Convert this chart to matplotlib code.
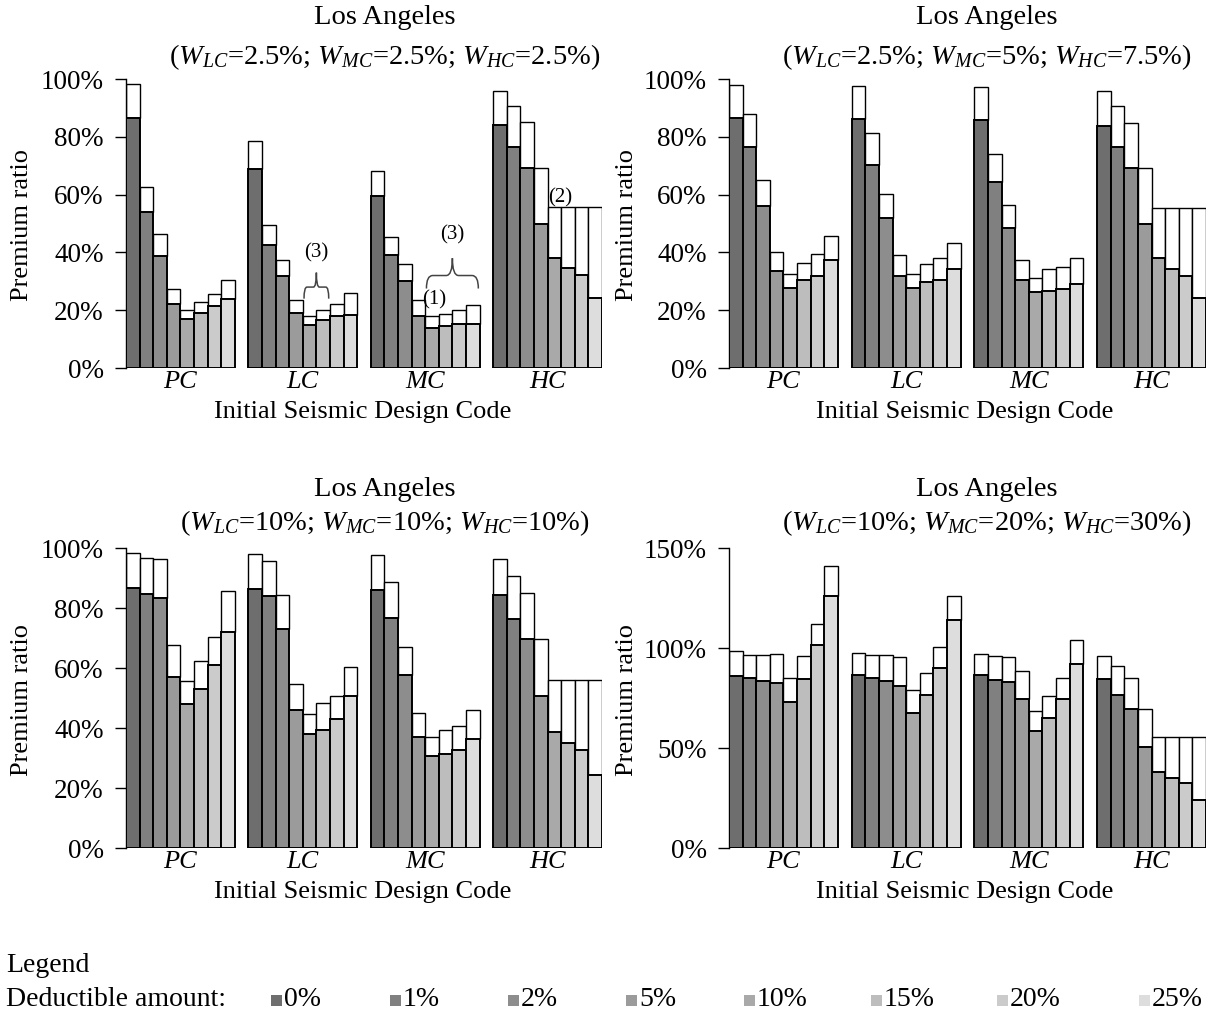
import matplotlib
matplotlib.use("Agg")
import matplotlib.pyplot as plt
from matplotlib.patches import Rectangle, PathPatch
from matplotlib.path import Path
from matplotlib.ticker import FuncFormatter

plt.rcParams['font.family'] = ['Liberation Serif', 'DejaVu Serif']
plt.rcParams['mathtext.fontset'] = 'custom'
plt.rcParams['mathtext.rm'] = 'Liberation Serif'
plt.rcParams['mathtext.it'] = 'Liberation Serif:italic'

codes = ['PC', 'LC', 'MC', 'HC']
deductibles = ['0%', '1%', '2%', '5%', '10%', '15%', '20%', '25%']
shades = ['#6e6e6e', '#808080', '#8d8d8d', '#9b9b9b', '#a9a9a9', '#bdbdbd', '#cbcbcb', '#dddddd']

# Premium ratio (%) with deductible: lower shaded part; total without deductible: top of white box
# Panel A: W_LC=2.5%, W_MC=2.5%, W_HC=2.5%
a_low = {
    'PC': [86.5, 54.0, 38.8, 22.0, 17.0, 19.2, 21.5, 24.0],
    'LC': [69.0, 42.5, 31.8, 19.0, 15.0, 16.7, 18.0, 18.5],
    'MC': [59.5, 39.0, 30.0, 18.0, 14.0, 14.5, 15.3, 15.3],
    'HC': [84.0, 76.3, 69.1, 50.0, 38.0, 34.5, 32.2, 24.3],
}
a_top = {
    'PC': [98.2, 62.6, 46.2, 27.5, 20.0, 22.7, 25.7, 30.6],
    'LC': [78.7, 49.4, 37.3, 23.6, 18.1, 20.0, 22.2, 25.8],
    'MC': [68.0, 45.4, 36.1, 23.6, 17.9, 18.8, 20.0, 21.8],
    'HC': [95.8, 90.8, 85.0, 69.3, 55.6, 55.6, 55.6, 55.6],
}
# Panel B: W_LC=2.5%, W_MC=5%, W_HC=7.5%
b_low = {
    'PC': [86.6, 76.3, 55.9, 33.6, 27.8, 30.4, 32.0, 37.4],
    'LC': [86.2, 70.4, 51.8, 32.0, 27.8, 29.6, 30.4, 34.4],
    'MC': [85.7, 64.2, 48.4, 30.4, 26.2, 26.8, 27.4, 29.1],
    'HC': [83.9, 76.3, 69.1, 50.0, 37.9, 34.3, 32.0, 24.3],
}
b_top = {
    'PC': [97.9, 87.9, 65.2, 40.3, 32.4, 36.4, 39.5, 45.7],
    'LC': [97.5, 81.2, 60.3, 39.0, 32.4, 35.9, 38.0, 43.4],
    'MC': [97.2, 74.2, 56.3, 37.2, 31.0, 34.1, 34.8, 38.1],
    'HC': [95.7, 90.7, 84.8, 69.1, 55.4, 55.4, 55.4, 55.4],
}
# Panel C: W_LC=10%, W_MC=10%, W_HC=10%
c_low = {
    'PC': [86.6, 84.6, 83.3, 57.0, 47.9, 53.1, 61.1, 71.9],
    'LC': [86.4, 84.1, 72.9, 46.0, 38.1, 39.5, 42.9, 50.6],
    'MC': [86.1, 76.8, 57.7, 36.9, 30.7, 31.5, 32.6, 36.5],
    'HC': [84.4, 76.5, 69.6, 50.6, 38.6, 34.9, 32.7, 24.3],
}
c_top = {
    'PC': [98.3, 96.7, 96.3, 67.6, 55.5, 62.2, 70.2, 85.6],
    'LC': [98.0, 95.8, 84.2, 54.7, 44.8, 48.3, 50.8, 60.4],
    'MC': [97.6, 88.6, 67.1, 44.9, 37.0, 39.2, 40.6, 46.0],
    'HC': [96.2, 90.6, 85.1, 69.7, 55.9, 55.9, 55.9, 55.9],
}
# Panel D: W_LC=10%, W_MC=20%, W_HC=30%
d_low = {
    'PC': [86.1, 84.8, 83.5, 82.3, 73.1, 84.6, 101.4, 126.0],
    'LC': [86.3, 84.8, 83.6, 81.1, 67.7, 76.4, 90.2, 114.0],
    'MC': [86.3, 84.0, 82.8, 74.4, 58.3, 65.2, 74.6, 92.0],
    'HC': [84.3, 76.3, 69.4, 50.6, 38.2, 35.0, 32.3, 24.1],
}
d_top = {
    'PC': [98.4, 96.4, 96.4, 97.2, 84.8, 95.9, 112.0, 141.1],
    'LC': [97.7, 96.4, 96.4, 95.4, 78.9, 87.5, 100.4, 126.2],
    'MC': [97.2, 95.9, 95.4, 88.7, 68.7, 75.9, 84.8, 103.9],
    'HC': [95.9, 90.8, 84.8, 69.4, 55.6, 55.6, 55.6, 55.6],
}

subtitles = [
    r'($W_{LC}$=2.5%; $W_{MC}$=2.5%; $W_{HC}$=2.5%)',
    r'($W_{LC}$=2.5%; $W_{MC}$=5%; $W_{HC}$=7.5%)',
    r'($W_{LC}$=10%; $W_{MC}$=10%; $W_{HC}$=10%)',
    r'($W_{LC}$=10%; $W_{MC}$=20%; $W_{HC}$=30%)',
]

W, H = 1208, 1016
fig = plt.figure(figsize=(W / 100, H / 100), dpi=100)

BW = 0.111  # bar width in group units


def px_axes(left, right, top, bottom):
    return fig.add_axes([left / W, 1 - bottom / H, (right - left) / W, (bottom - top) / H])


def draw_panel(ax, low, top, ymax, yticks):
    for g, code in enumerate(codes):
        for k in range(len(deductibles)):
            x = g + (k - 3.5) * BW
            lo = low[code][k] / 100
            hi = top[code][k] / 100
            ax.bar(x, hi - lo, bottom=lo, width=BW, color='white',
                   edgecolor='black', linewidth=1.0, zorder=2)
            ax.bar(x, lo, width=BW, color=shades[k],
                   edgecolor='black', linewidth=1.4, zorder=3)
    ax.set_xlim(-4 * BW, 3 + 4 * BW)
    ax.set_ylim(0, ymax)
    ax.set_yticks(yticks)
    ax.yaxis.set_major_formatter(FuncFormatter(lambda v, p: f'{v * 100:.0f}%'))
    ax.tick_params(axis='y', direction='out', length=8, width=1, pad=8,
                   labelsize=19.5, colors='black')
    ax.set_xticks(range(len(codes)))
    ax.set_xticklabels(codes, fontstyle='italic', fontsize=19)
    ax.tick_params(axis='x', length=0, pad=2)
    for s in ['top', 'right', 'bottom']:
        ax.spines[s].set_visible(False)
    ax.spines['left'].set_linewidth(1.0)
    ax.spines['left'].set_bounds(0, ymax)
    ax.set_facecolor('none')


def brace(ax, x0, x1, y_tip, y_line, y_peak):
    xc = (x0 + x1) / 2
    d = (x1 - x0) * 0.12
    verts = [
        (x0, y_tip), (x0, y_line), (x0 + d, y_line),
        (xc - d, y_line), (xc, y_line), (xc, y_peak),
        (xc, y_line), (xc + d, y_line),
        (x1 - d, y_line), (x1, y_line), (x1, y_tip),
    ]
    codes_p = [Path.MOVETO, Path.CURVE3, Path.CURVE3,
               Path.LINETO, Path.CURVE3, Path.CURVE3,
               Path.CURVE3, Path.CURVE3,
               Path.LINETO, Path.CURVE3, Path.CURVE3]
    ax.add_patch(PathPatch(Path(verts, codes_p), facecolor='none',
                           edgecolor='#444444', linewidth=1.1, zorder=4))


panels = [
    ((126, 602, 79, 368), a_low, a_top, 1.0, [0, .2, .4, .6, .8, 1.0]),
    ((729, 1206, 79, 368), b_low, b_top, 1.0, [0, .2, .4, .6, .8, 1.0]),
    ((126, 602, 548, 848), c_low, c_top, 1.0, [0, .2, .4, .6, .8, 1.0]),
    ((729, 1206, 548, 848), d_low, d_top, 1.5, [0, .5, 1.0, 1.5]),
]

axes = []
for (rect, lo, hi, ymax, yt) in panels:
    ax = px_axes(*rect)
    draw_panel(ax, lo, hi, ymax, yt)
    axes.append(ax)

# Titles, axis labels
title_x = [385, 987, 385, 987]
title_y = [18, 18, 489, 489]
sub_y = [57, 57, 523, 523]
xlab_x = [363, 965, 363, 965]
xlab_y = [412, 412, 892, 892]
ylab_x = [22, 627, 22, 627]
ylab_y = [225, 225, 700, 700]
for i in range(4):
    fig.text(title_x[i] / W, 1 - title_y[i] / H, 'Los Angeles', ha='center', va='center', fontsize=20.5)
    fig.text(title_x[i] / W, 1 - sub_y[i] / H, subtitles[i], ha='center', va='center', fontsize=20.5)
    fig.text(xlab_x[i] / W, 1 - xlab_y[i] / H, 'Initial Seismic Design Code', ha='center', va='center', fontsize=19)
    fig.text(ylab_x[i] / W, 1 - ylab_y[i] / H, 'Premium ratio', ha='center', va='center',
             rotation=90, fontsize=19)

# Annotations on the first panel
ax0 = axes[0]
brace(ax0, 1 + 0.01, 1 + 2 * BW - 0.01, 0.24, 0.28, 0.33)
ax0.text(1 + BW, 0.40, '(3)', ha='center', va='center', fontsize=15)
brace(ax0, 2 + 0.01, 2 + 4 * BW - 0.01, 0.275, 0.32, 0.38)
ax0.text(2 + 2 * BW, 0.46, '(3)', ha='center', va='center', fontsize=15)
ax0.text(2 + 0.5 * BW + 0.02, 0.235, '(1)', ha='center', va='center', fontsize=15, zorder=5)
ax0.text(3 + 0.9 * BW, 0.59, '(2)', ha='center', va='center', fontsize=15, zorder=5)

# Legend
fig.text(6 / W, 1 - 966 / H, 'Legend', ha='left', va='center', fontsize=20)
fig.text(6 / W, 1 - 1000 / H, 'Deductible amount:', ha='left', va='center', fontsize=20)
leg_x = [271, 390, 508, 626, 744, 871, 997, 1139]
for k, lab in enumerate(deductibles):
    fig.patches.append(Rectangle((leg_x[k] / W, 1 - 1006 / H), 11 / W, 11 / H,
                                 transform=fig.transFigure, facecolor=shades[k],
                                 edgecolor='none'))
    fig.text((leg_x[k] + 13) / W, 1 - 1000 / H, lab, ha='left', va='center', fontsize=20)

fig.savefig('out.png', dpi=100)
